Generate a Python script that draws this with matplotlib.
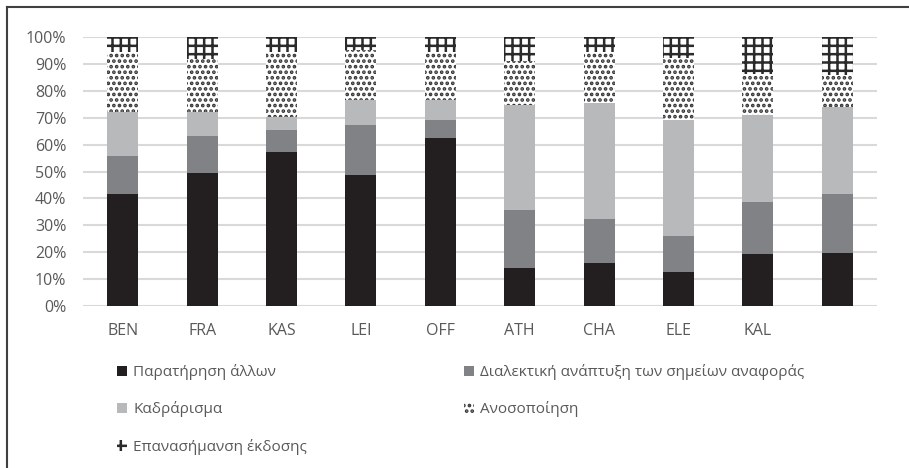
import matplotlib
matplotlib.use("Agg")
import matplotlib.pyplot as plt
from matplotlib.lines import Line2D
from matplotlib.ticker import PercentFormatter
import numpy as np

plt.rcParams['font.family'] = ['Open Sans', 'DejaVu Sans']
plt.rcParams['hatch.linewidth'] = 1.8

categories = ["BEN", "FRA", "KAS", "LEI", "OFF", "ATH", "CHA", "ELE", "KAL", ""]
observation = [41.6, 49.6, 57.3, 48.6, 62.6, 14.3, 15.9, 12.8, 19.2, 19.8]
dialectic = [14.1, 13.6, 8.1, 18.6, 6.7, 21.3, 16.3, 13.3, 19.3, 21.8]
framing = [16.3, 8.8, 4.9, 9.3, 7.2, 39.3, 43.3, 43.2, 32.4, 32.4]
inoculation = [22.4, 20.0, 24.1, 18.5, 17.9, 16.1, 18.9, 23.0, 15.5, 11.8]
relabeling = [5.6, 8.0, 5.6, 5.0, 5.6, 9.0, 5.6, 7.7, 13.6, 14.2]

series_labels = ["Παρατήρηση άλλων",
                 "Διαλεκτική ανάπτυξη των σημείων αναφοράς",
                 "Καδράρισμα",
                 "Ανοσοποίηση",
                 "Επανασήμανση έκδοσης"]

fig = plt.figure(figsize=(9.09, 4.68), dpi=100)
ax = fig.add_axes([83 / 909, 1 - 306 / 468, 794 / 909, 269 / 468])

x = np.arange(len(categories))
w = 0.39
text_gray = "#595959"

series = [observation, dialectic, framing, inoculation, relabeling]
styles = [
    dict(color="#231f20", linewidth=0),
    dict(color="#808285", linewidth=0),
    dict(color="#b8b9bb", linewidth=0),
    dict(facecolor="white", edgecolor="#333333", hatch="...", linewidth=0),
    dict(facecolor="white", edgecolor="#2a2a2a", hatch="++", linewidth=0),
]
bottom = np.zeros(len(categories))
containers = []
for vals, lab, st in zip(series, series_labels, styles):
    v = np.array(vals) / 100.0
    c = ax.bar(x, v, w, bottom=bottom, label=lab, zorder=3, **st)
    containers.append(c)
    bottom = bottom + v

ax.set_xlim(-0.5, len(categories) - 0.5)
ax.set_ylim(0, 1)
ax.set_yticks(np.arange(0, 1.01, 0.1))
ax.yaxis.set_major_formatter(PercentFormatter(1.0, decimals=0))
ax.set_xticks(x)
ax.set_xticklabels(categories)
ax.grid(axis='y', color="#d9d9d9", linewidth=1.5, zorder=0)
ax.set_axisbelow(True)
for s in ax.spines.values():
    s.set_visible(False)
ax.tick_params(axis='both', length=0, labelsize=11.5, colors=text_gray)
ax.tick_params(axis='y', pad=12)
ax.tick_params(axis='x', pad=12)

order = [0, 2, 4, 1, 3]
handles = [containers[i] for i in order]
labels = [series_labels[i] for i in order]
leg = fig.legend(handles, labels, ncol=2, loc='upper left',
                 bbox_to_anchor=(117 / 909, 1 - 364 / 468),
                 frameon=False, fontsize=11,
                 handlelength=0.65, handleheight=0.65, handletextpad=0.4,
                 labelspacing=1.4, columnspacing=10.3, borderpad=0,
                 borderaxespad=0)
for t in leg.get_texts():
    t.set_color(text_gray)

# outer frame (top and left edges visible)
fig.add_artist(Line2D([7 / 909, 1.0], [1 - 7 / 468, 1 - 7 / 468],
                      color="#404040", linewidth=1.5))
fig.add_artist(Line2D([7 / 909, 7 / 909], [0.0, 1 - 7 / 468],
                      color="#404040", linewidth=1.5))

fig.savefig("out.png", dpi=100)
